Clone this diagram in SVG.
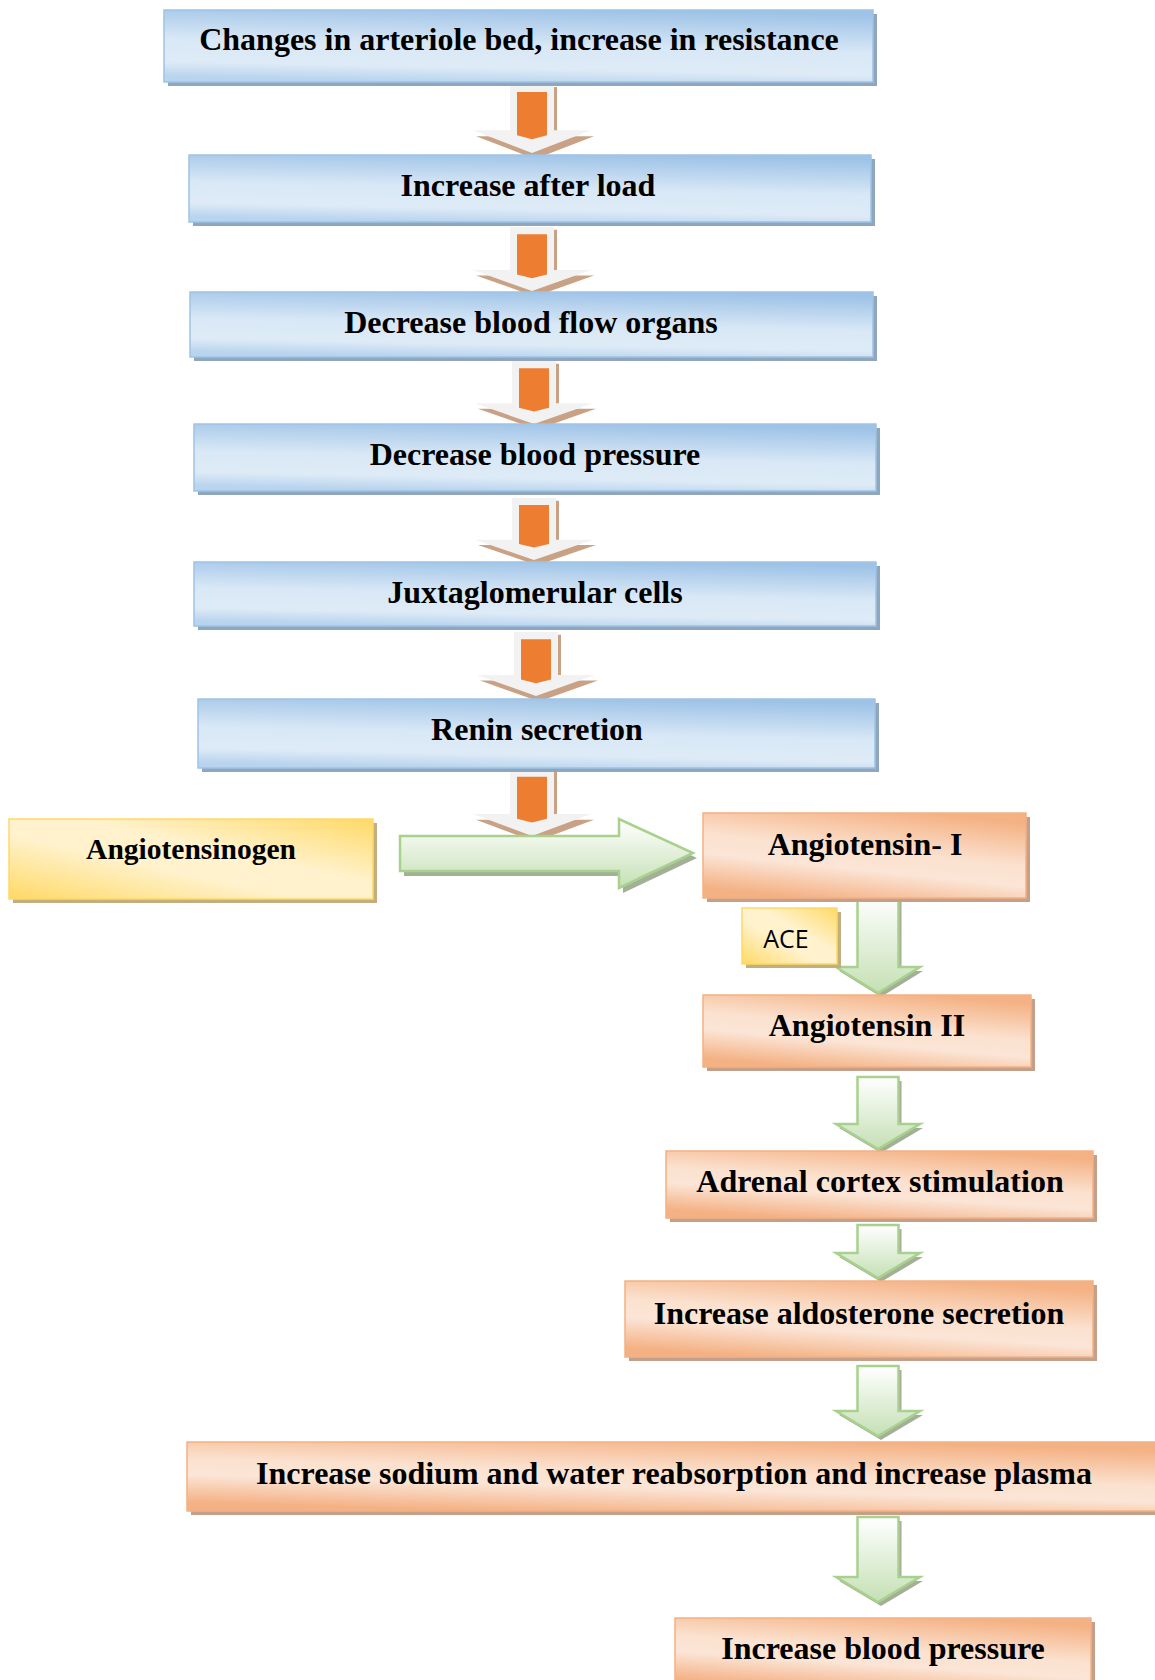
<svg xmlns="http://www.w3.org/2000/svg" width="1155" height="1680" viewBox="0 0 1155 1680">
<style>
.blue{fill:url(#gBlue);stroke:#9dc3e6;stroke-width:1.5}
.bsh{fill:#8fa6bd}
.org{fill:url(#gOrg);stroke:#f4b183;stroke-width:1.5}
.osh{fill:#c4a08a}
.yel{fill:url(#gYel);stroke:#ffd966;stroke-width:1.5}
.ysh{fill:#c2ae7f}
.t{font-family:"Liberation Serif","Times New Roman",serif;font-weight:bold;font-size:32px;fill:#000;text-anchor:middle}
.ace{font-family:"Open Sans","Liberation Sans",sans-serif;font-size:24px;fill:#000;text-anchor:middle}
.garr{fill:url(#gGreen);stroke:#a9d18e;stroke-width:2.5;stroke-linejoin:miter}
.gsh{fill:#a3b097}
</style>
<defs>
<linearGradient id="gBlue" x1="0.6" y1="0" x2="0.4" y2="1">
<stop offset="0" stop-color="#9fc3e7"/>
<stop offset="0.5" stop-color="#d9e8f6"/>
<stop offset="0.8" stop-color="#deebf7"/>
<stop offset="1" stop-color="#b9d4ee"/>
</linearGradient>
<linearGradient id="gOrg" x1="0.7" y1="0" x2="0.3" y2="1">
<stop offset="0" stop-color="#f4b183"/>
<stop offset="0.45" stop-color="#fbe2d0"/>
<stop offset="0.65" stop-color="#fbe5d6"/>
<stop offset="1" stop-color="#f4b183"/>
</linearGradient>
<linearGradient id="gYel" x1="1" y1="0" x2="0" y2="1">
<stop offset="0" stop-color="#ffd966"/>
<stop offset="0.4" stop-color="#fff2cc"/>
<stop offset="0.6" stop-color="#fff2cc"/>
<stop offset="1" stop-color="#ffd966"/>
</linearGradient>
<linearGradient id="gGreen" x1="0" y1="0" x2="0" y2="1">
<stop offset="0" stop-color="#ffffff"/>
<stop offset="1" stop-color="#c5e0b4"/>
</linearGradient>
<g id="oarrow">
<polygon points="-19,3 25,3 25,53 62,53 3,76 -56,53 -19,53" fill="#c9a285"/>
<polygon points="-22,0 22,0 22,47 59,47 0,70 -59,47 -22,47" fill="#f2f2f2"/>
<polygon points="-15,8 15,8 15,52 0,56 -15,52" fill="#ed7d31"/>
</g>
</defs>

<g id="connectors">
<use href="#oarrow" transform="translate(532,84) scale(1,0.986)"/>
<use href="#oarrow" transform="translate(532,227) scale(1,0.914)"/>
<use href="#oarrow" transform="translate(534,361) scale(1,0.9)"/>
<use href="#oarrow" transform="translate(534,498) scale(1,0.886)"/>
<use href="#oarrow" transform="translate(536,632) scale(1,0.914)"/>
<use href="#oarrow" transform="translate(532,769) scale(1,0.957)"/>
<path class="gsh" d="M404,841 H623 V824 L697,858 L623,893 V876 H404 Z"/>
<path class="garr" d="M400,836 H619 V819 L693,853 L619,888 V871 H400 Z"/>
<path class="gsh" d="M860.5,899 H901.5 V971 H923 L881,997 L839,971 H860.5 Z"/>
<path class="garr" d="M857.5,895 H898.5 V967 H920 L878,993 L836,967 H857.5 Z"/>
<path class="gsh" d="M860.5,1081 H901.5 V1128 H923 L881,1153 L839,1128 H860.5 Z"/>
<path class="garr" d="M857.5,1077 H898.5 V1124 H920 L878,1149 L836,1124 H857.5 Z"/>
<path class="gsh" d="M860.5,1229 H901.5 V1257 H923 L881,1282 L839,1257 H860.5 Z"/>
<path class="garr" d="M857.5,1225 H898.5 V1253 H920 L878,1278 L836,1253 H857.5 Z"/>
<path class="gsh" d="M860.5,1370 H901.5 V1415 H923 L881,1440 L839,1415 H860.5 Z"/>
<path class="garr" d="M857.5,1366 H898.5 V1411 H920 L878,1436 L836,1411 H857.5 Z"/>
<path class="gsh" d="M860.5,1521 H901.5 V1581 H923 L881,1606 L839,1581 H860.5 Z"/>
<path class="garr" d="M857.5,1517 H898.5 V1577 H920 L878,1602 L836,1577 H857.5 Z"/>
</g>

<g id="n1"><rect class="bsh" x="168" y="14" width="709" height="72"/><rect class="blue" x="164" y="10" width="709" height="72"/><text class="t" x="519" y="50">Changes in arteriole bed, increase in resistance</text></g>
<g id="n2"><rect class="bsh" x="193" y="159" width="682" height="67"/><rect class="blue" x="189" y="155" width="682" height="67"/><text class="t" x="528" y="196">Increase after load</text></g>
<g id="n3"><rect class="bsh" x="194" y="296" width="683" height="65"/><rect class="blue" x="190" y="292" width="683" height="65"/><text class="t" x="531" y="333">Decrease blood flow organs</text></g>
<g id="n4"><rect class="bsh" x="198" y="428" width="682" height="67"/><rect class="blue" x="194" y="424" width="682" height="67"/><text class="t" x="535" y="465">Decrease blood pressure</text></g>
<g id="n5"><rect class="bsh" x="198" y="566" width="682" height="64"/><rect class="blue" x="194" y="562" width="682" height="64"/><text class="t" x="535" y="603">Juxtaglomerular cells</text></g>
<g id="n6"><rect class="bsh" x="202" y="703" width="677" height="69"/><rect class="blue" x="198" y="699" width="677" height="69"/><text class="t" x="537" y="740">Renin secretion</text></g>

<g id="n7"><rect class="ysh" x="13" y="823" width="364" height="80"/><rect class="yel" x="9" y="819" width="364" height="80"/><text class="t" x="191" y="859" style="font-size:29.5px">Angiotensinogen</text></g>
<g id="n8"><rect class="osh" x="707" y="817" width="323" height="85"/><rect class="org" x="703" y="813" width="323" height="85"/><text class="t" x="865" y="855">Angiotensin- I</text></g>
<g id="n9"><rect class="ysh" x="746" y="912" width="95" height="56"/><rect class="yel" x="742" y="908" width="95" height="56"/><text class="ace" x="786" y="948" style="font-size:25px">ACE</text></g>
<g id="n10"><rect class="osh" x="707" y="999" width="328" height="72"/><rect class="org" x="703" y="995" width="328" height="72"/><text class="t" x="867" y="1036">Angiotensin II</text></g>
<g id="n11"><rect class="osh" x="670" y="1155" width="427" height="67"/><rect class="org" x="666" y="1151" width="427" height="67"/><text class="t" x="880" y="1192">Adrenal cortex stimulation</text></g>
<g id="n12"><rect class="osh" x="629" y="1285" width="468" height="76"/><rect class="org" x="625" y="1281" width="468" height="76"/><text class="t" x="859" y="1324">Increase aldosterone secretion</text></g>
<g id="n13"><rect class="osh" x="191" y="1446" width="974" height="69"/><rect class="org" x="187" y="1442" width="974" height="69"/><text class="t" x="674" y="1484">Increase sodium and water reabsorption and increase plasma</text></g>
<g id="n14"><rect class="osh" x="679" y="1622" width="416" height="70"/><rect class="org" x="675" y="1618" width="416" height="70"/><text class="t" x="883" y="1659">Increase blood pressure</text></g>
</svg>
